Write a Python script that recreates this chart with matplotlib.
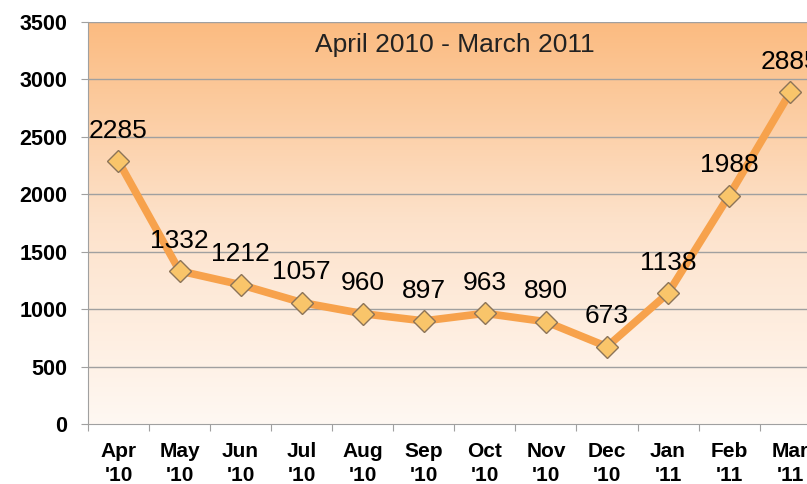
import matplotlib.pyplot as plt
import numpy as np
from matplotlib.colors import LinearSegmentedColormap

months = ['Apr', 'May', 'Jun', 'Jul', 'Aug', 'Sep', 'Oct', 'Nov', 'Dec', 'Jan', 'Feb', 'Mar']
years = ["'10", "'10", "'10", "'10", "'10", "'10", "'10", "'10", "'10", "'11", "'11", "'11"]
values = [2285, 1332, 1212, 1057, 960, 897, 963, 890, 673, 1138, 1988, 2885]
yticks = [0, 500, 1000, 1500, 2000, 2500, 3000, 3500]

plt.rcParams['font.family'] = ['Liberation Sans', 'DejaVu Sans']

fig = plt.figure(figsize=(8.07, 4.84), dpi=100)
ax = fig.add_axes([0.109, 0.124, 0.908, 0.831])

x = np.arange(len(values))

# background gradient, orange top to pale bottom
cmap = LinearSegmentedColormap.from_list('bg', ['#fff8f2', '#fde2cb', '#fbbb80'])
grad = np.linspace(0, 1, 256).reshape(-1, 1)
ax.imshow(grad, aspect='auto', cmap=cmap, origin='lower',
          extent=[-0.5, len(values) - 0.5, 0, 3500], zorder=0)

for t in yticks[1:]:
    ax.axhline(t, color='#a0a0a0', lw=1, zorder=1)

ax.plot(x, values, color='#f7a24c', lw=5.5, zorder=2, solid_capstyle='round')
ax.plot(x, values, linestyle='none', marker='D', markersize=11,
        markerfacecolor='#f9c56a', markeredgecolor='#8c7458', markeredgewidth=1.0, zorder=3)

for xi, v in zip(x, values):
    ax.text(xi, v + 160, str(v), ha='center', va='bottom', fontsize=19, color='black', zorder=4)

ax.text(5.5, 3300, 'April 2010 - March 2011', ha='center', va='center', fontsize=19, color='#222222')

ax.set_xlim(-0.5, len(values) - 0.5)
ax.set_ylim(0, 3500)
ax.set_yticks(yticks)
ax.set_yticklabels([str(t) for t in yticks], fontsize=15.5, fontweight='bold')
ax.set_xticks(np.arange(len(values) + 1) - 0.5, minor=False)
ax.set_xticklabels([])
ax.set_xticks(x, minor=True)
ax.set_xticklabels([m + '\n' + y for m, y in zip(months, years)], minor=True,
                   fontsize=15, fontweight='bold', linespacing=1.3)
ax.tick_params(axis='x', which='minor', length=0, pad=13)
ax.tick_params(axis='x', which='major', length=5, color='#a0a0a0', direction='out')
ax.tick_params(axis='y', length=5, color='#a0a0a0', direction='out', pad=10)

for s in ['top', 'right']:
    ax.spines[s].set_visible(False)
for s in ['left', 'bottom']:
    ax.spines[s].set_color('#a0a0a0')

fig.savefig('out.png', dpi=100)
